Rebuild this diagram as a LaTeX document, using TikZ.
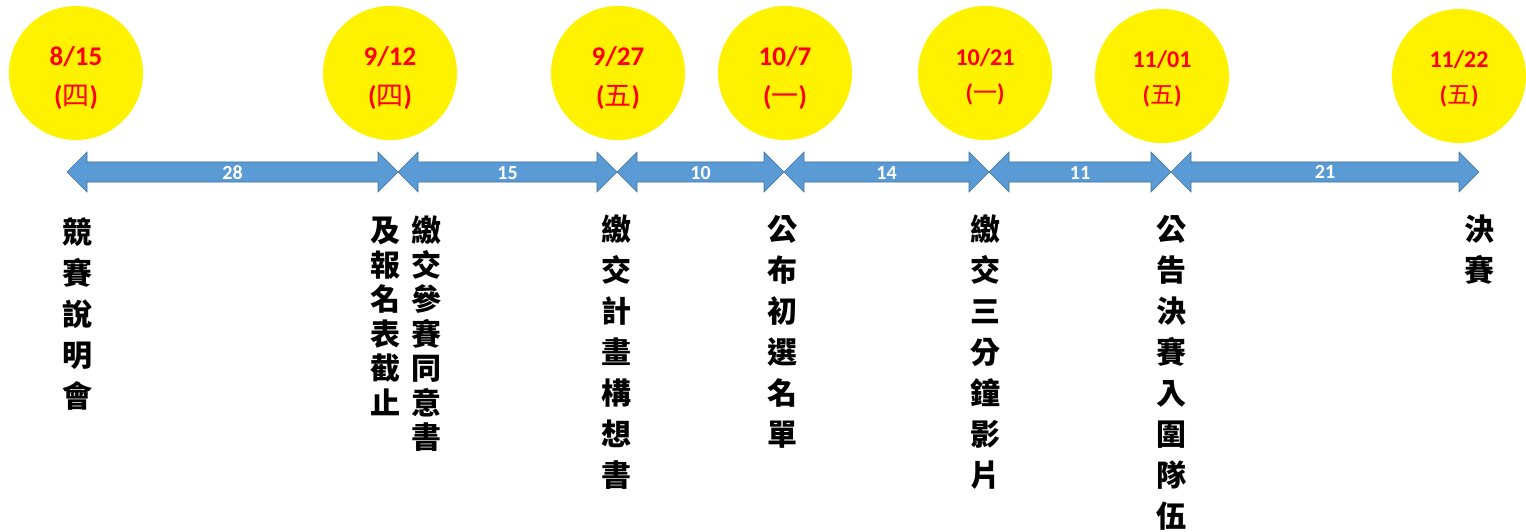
\documentclass[tikz,border=0pt]{standalone}
\usepackage{fontspec}
\setmainfont{Carlito}
\newfontfamily\cjk{Noto Sans CJK TC}
\definecolor{arrowblue}{HTML}{5B9BD5}
\definecolor{arrowedge}{HTML}{41719C}
\newcommand\wkday[1]{({\cjk\mdseries #1})}
\newcommand\gapshape[2]{%
  \filldraw[gapfill] (#1,172) -- (#1+20,152) -- (#1+20,162) -- (#2-20,162) -- (#2-20,152) -- (#2,172)
    -- (#2-20,192) -- (#2-20,182) -- (#1+20,182) -- (#1+20,192) -- cycle;}

\begin{document}
\begin{tikzpicture}[x=1pt, y=-1pt,
    datedot/.style={circle, fill=yellow, minimum size=134pt, inner sep=0pt},
    datebig/.style={inner sep=0pt, text=red, align=center, font=\fontsize{27}{40}\selectfont\bfseries},
    datesmall/.style={datebig, font=\fontsize{24}{36}\selectfont\bfseries},
    gapfill/.style={fill=arrowblue, draw=arrowedge, line width=0.6pt, line join=miter},
    gapnum/.style={inner sep=0pt, text=white, font=\fontsize{20}{20}\selectfont\bfseries},
    task/.style={anchor=north, inner sep=0pt, align=center, font=\cjk\bfseries\fontsize{30}{41}\selectfont},
    tasktight/.style={task, font=\cjk\bfseries\fontsize{30}{34.5}\selectfont}]
        \useasboundingbox (0,0) rectangle (1526,532);
        % dates
        \node[datedot] (date1) at (76,73) {};
        \node[datedot] (date2) at (390,73) {};
        \node[datedot] (date3) at (618,73) {};
        \node[datedot] (date4) at (785,73) {};
        \node[datedot] (date5) at (985,73) {};
        \node[datedot] (date6) at (1162,76) {};
        \node[datedot] (date7) at (1459,76) {};
        \node[datebig] (day1) at ([yshift=-5pt]date1.center) {8/15\\\wkday{四}};
        \node[datebig] (day2) at ([yshift=-5pt]date2.center) {9/12\\\wkday{四}};
        \node[datebig] (day3) at ([yshift=-5pt]date3.center) {9/27\\\wkday{五}};
        \node[datebig] (day4) at ([yshift=-5pt]date4.center) {10/7\\\wkday{一}};
        \node[datesmall] (day5) at ([yshift=-4pt]date5.center) {10/21\\\wkday{一}};
        \node[datesmall] (day6) at ([yshift=-3pt]date6.center) {11/01\\\wkday{五}};
        \node[datesmall] (day7) at ([yshift=-3pt]date7.center) {11/22\\\wkday{五}};
        % days between
        \gapshape{67}{398}
        \gapshape{398}{617}
        \gapshape{617}{784}
        \gapshape{784}{989}
        \gapshape{989}{1171}
        \gapshape{1171}{1479}
        \node[gapnum] (gap1) at (232.5,173) {28};
        \node[gapnum] (gap2) at (507.5,173) {15};
        \node[gapnum] (gap3) at (700.5,173) {10};
        \node[gapnum] (gap4) at (886.5,173) {14};
        \node[gapnum] (gap5) at (1080,173) {11};
        \node[gapnum] (gap6) at (1325,172) {21};
        % events
        \node[task] (task1) at (77,217) {競\\賽\\說\\明\\會};
        \node[tasktight] (task2a) at (426,216) {繳\\交\\參\\賽\\同\\意\\書};
        \node[tasktight] (task2b) at (385,217) {及\\報\\名\\表\\截\\止};
        \node[task] (task3) at (616,215) {繳\\交\\計\\畫\\構\\想\\書};
        \node[task] (task4) at (782,215) {公\\布\\初\\選\\名\\單};
        \node[task] (task5) at (985,215) {繳\\交\\三\\分\\鐘\\影\\片};
        \node[task] (task6) at (1171,215) {公\\告\\決\\賽\\入\\圍\\隊\\伍};
        \node[task] (task7) at (1479,215) {決\\賽};
    \end{tikzpicture}
\end{document}
